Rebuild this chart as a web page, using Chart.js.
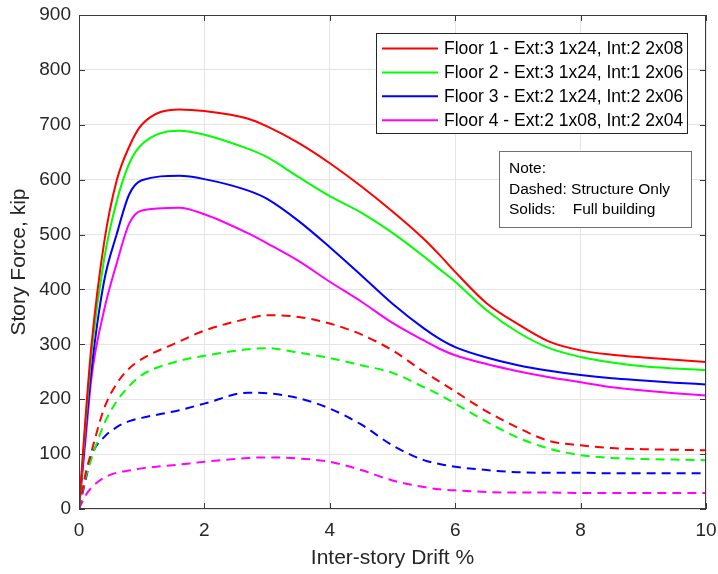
<!DOCTYPE html>
<html>
<head>
<meta charset="utf-8">
<script src="https://cdn.jsdelivr.net/npm/chart.js@4.4.1/dist/chart.umd.min.js"></script>
<style>
  html, body { margin: 0; padding: 0; background: #fff; }
  #wrap { width: 718px; height: 574px; }
</style>
</head>
<body>
<div id="wrap"><canvas id="driftChart" width="718" height="574"></canvas></div>
<script>
// drift (%) at which every curve is sampled
var drift = [0, 0.1, 0.2, 0.4, 0.6, 0.8, 1.0, 1.6, 2.0, 2.7, 3.0, 3.5, 4.0, 4.5, 5.0, 5.5, 5.75, 6.0, 6.5, 7.0, 7.5, 8.0, 8.5, 9.0, 9.5, 10];

var floorLabels = [
  'Floor 1 - Ext:3 1x24, Int:2 2x08',
  'Floor 2 - Ext:3 1x24, Int:1 2x06',
  'Floor 3 - Ext:2 1x24, Int:2 2x06',
  'Floor 4 - Ext:2 1x08, Int:2 2x04'
];
var floorColors = ['#ff0000', '#00ff00', '#0000ff', '#ff00ff'];

// story force (kip), full building
var full1 = [0, 160, 300, 485, 598, 660, 700, 728, 725, 711, 697, 667, 630, 588, 542, 492, 463, 432, 375, 337, 305, 289, 281, 276, 272, 268];
var full2 = [0, 150, 285, 455, 560, 629, 664, 689, 682, 656, 641, 605, 570, 540, 503, 460, 437, 414, 362, 322, 293, 277, 267, 260, 256, 253];
var full3 = [0, 135, 255, 415, 500, 573, 599, 607, 601, 580, 565, 525, 477, 426, 374, 329, 310, 295, 276, 262, 252, 244, 238, 234, 230, 227];
var full4 = [0, 120, 240, 362, 447, 520, 544, 549, 537, 502, 484, 452, 414, 378, 339, 307, 292, 280, 264, 251, 240, 231, 222, 216, 211, 207];

// story force (kip), structure only
var struct1 = [0, 62, 105, 183, 228, 256, 273, 305, 325, 347, 353, 350, 338, 318, 289, 250, 232, 214, 178, 148, 124, 116, 111, 109, 108, 107];
var struct2 = [0, 55, 92, 155, 196, 224, 244, 270, 279, 291, 293, 285, 275, 262, 248, 222, 208, 192, 159, 130, 110, 98, 93, 91, 90, 89];
var struct3 = [0, 50, 97, 131, 149, 160, 166, 180, 192, 212, 211, 202, 183, 154, 116, 89, 82, 77, 71, 67, 66, 66, 65, 65, 65, 65];
var struct4 = [0, 24, 39, 57, 66, 70, 74, 81, 86, 93, 94, 92, 86, 71, 52, 40, 36, 34, 31, 30, 30, 29, 29, 29, 29, 29];

var noteLines = ['Note:', 'Dashed: Structure Only', 'Solids:    Full building'];

var fullForce = [full1, full2, full3, full4];
var structForce = [struct1, struct2, struct3, struct4];

function toPoints(vals) {
  return vals.map(function(v, i) { return { x: drift[i], y: v }; });
}

var datasets = [];
floorLabels.forEach(function(label, i) {
  datasets.push({
    label: label,
    data: toPoints(fullForce[i]),
    borderColor: floorColors[i],
    borderWidth: 2,
    inLegend: true
  });
});
floorLabels.forEach(function(label, i) {
  datasets.push({
    label: label + ' (structure)',
    data: toPoints(structForce[i]),
    borderColor: floorColors[i],
    borderWidth: 2,
    borderDash: [9, 6]
  });
});

var FONT = "'Liberation Sans', Arial, Helvetica, sans-serif";
var TEXT = '#262626';

// box round the plot and the small inward ticks on all four sides
var axesBox = {
  id: 'axesBox',
  afterDatasetsDraw: function(chart) {
    var ctx = chart.ctx, a = chart.chartArea;
    var xs = chart.scales.x, ys = chart.scales.y;
    var len = 6;
    ctx.save();
    ctx.strokeStyle = '#3a3a3a';
    ctx.lineWidth = 1;
    ctx.beginPath();
    xs.ticks.forEach(function(t) {
      var px = Math.round(xs.getPixelForValue(t.value)) + 0.5;
      ctx.moveTo(px, a.bottom); ctx.lineTo(px, a.bottom - len);
      ctx.moveTo(px, a.top); ctx.lineTo(px, a.top + len);
    });
    ys.ticks.forEach(function(t) {
      var py = Math.round(ys.getPixelForValue(t.value)) + 0.5;
      ctx.moveTo(a.left, py); ctx.lineTo(a.left + len, py);
      ctx.moveTo(a.right, py); ctx.lineTo(a.right - len, py);
    });
    ctx.stroke();
    ctx.strokeRect(Math.round(a.left) + 0.5, Math.round(a.top) + 0.5,
      Math.round(a.right - a.left) - 1, Math.round(a.bottom - a.top) - 1);
    ctx.restore();
  }
};

// floor legend and the note box, inside the plot
var legendBoxes = {
  id: 'legendBoxes',
  afterDraw: function(chart) {
    var ctx = chart.ctx, a = chart.chartArea;
    ctx.save();

    var lx = a.right - 330, ly = a.top + 18, lw = 311, lh = 100;
    ctx.fillStyle = '#fff';
    ctx.fillRect(lx, ly, lw, lh);
    ctx.strokeStyle = '#262626';
    ctx.lineWidth = 1;
    ctx.strokeRect(lx + 0.5, ly + 0.5, lw, lh);
    ctx.font = '17.5px ' + FONT;
    ctx.textBaseline = 'middle';
    var row = 0;
    chart.data.datasets.forEach(function(ds) {
      if (!ds.inLegend) return;
      var cy = ly + 15.5 + row * 23.9;
      ctx.strokeStyle = ds.borderColor;
      ctx.lineWidth = 2;
      ctx.beginPath();
      ctx.moveTo(lx + 6, cy); ctx.lineTo(lx + 62, cy);
      ctx.stroke();
      ctx.fillStyle = '#000';
      ctx.fillText(ds.label, lx + 68, cy + 1);
      row++;
    });

    var nx = a.right - 207, ny = a.top + 136, nw = 192, nh = 76;
    ctx.fillStyle = '#fff';
    ctx.fillRect(nx, ny, nw, nh);
    ctx.strokeStyle = '#707070';
    ctx.lineWidth = 1;
    ctx.strokeRect(nx + 0.5, ny + 0.5, nw, nh);
    ctx.font = '15.5px ' + FONT;
    ctx.fillStyle = '#000';
    noteLines.forEach(function(line, i) {
      ctx.fillText(line, nx + 10, ny + 18 + i * 20.4);
    });
    ctx.restore();
  }
};

var chart = new Chart(document.getElementById('driftChart').getContext('2d'), {
  type: 'line',
  data: { datasets: datasets },
  options: {
    responsive: false,
    animation: false,
    devicePixelRatio: 1,
    events: [],
    elements: {
      point: { radius: 0 },
      line: { cubicInterpolationMode: 'monotone', borderCapStyle: 'butt' }
    },
    layout: { padding: { top: 15, right: 12, bottom: 0, left: 0 } },
    plugins: {
      legend: { display: false },
      tooltip: { enabled: false }
    },
    scales: {
      x: {
        type: 'linear',
        min: 0,
        max: 10,
        afterFit: function(scale) {
          scale.height = 65;
          scale.paddingLeft = 0;
          scale.paddingRight = 0;
        },
        ticks: { stepSize: 2, padding: 10, color: TEXT, font: { family: FONT, size: 19 } },
        grid: { color: '#e4e4e4', drawTicks: false },
        border: { display: false },
        title: {
          display: true,
          text: 'Inter-story Drift %',
          color: TEXT,
          font: { family: FONT, size: 21 },
          padding: { top: 0, bottom: 3 }
        }
      },
      y: {
        min: 0,
        max: 900,
        afterFit: function(scale) {
          scale.width = 79;
          scale.paddingTop = 0;
          scale.paddingBottom = 0;
        },
        ticks: { stepSize: 100, padding: 8, color: TEXT, font: { family: FONT, size: 19 } },
        grid: { color: '#e4e4e4', drawTicks: false },
        border: { display: false },
        title: {
          display: true,
          text: 'Story Force, kip',
          color: TEXT,
          font: { family: FONT, size: 21 },
          padding: { top: 7, bottom: 0 }
        }
      }
    }
  },
  plugins: [axesBox, legendBoxes]
});
</script>
</body>
</html>
